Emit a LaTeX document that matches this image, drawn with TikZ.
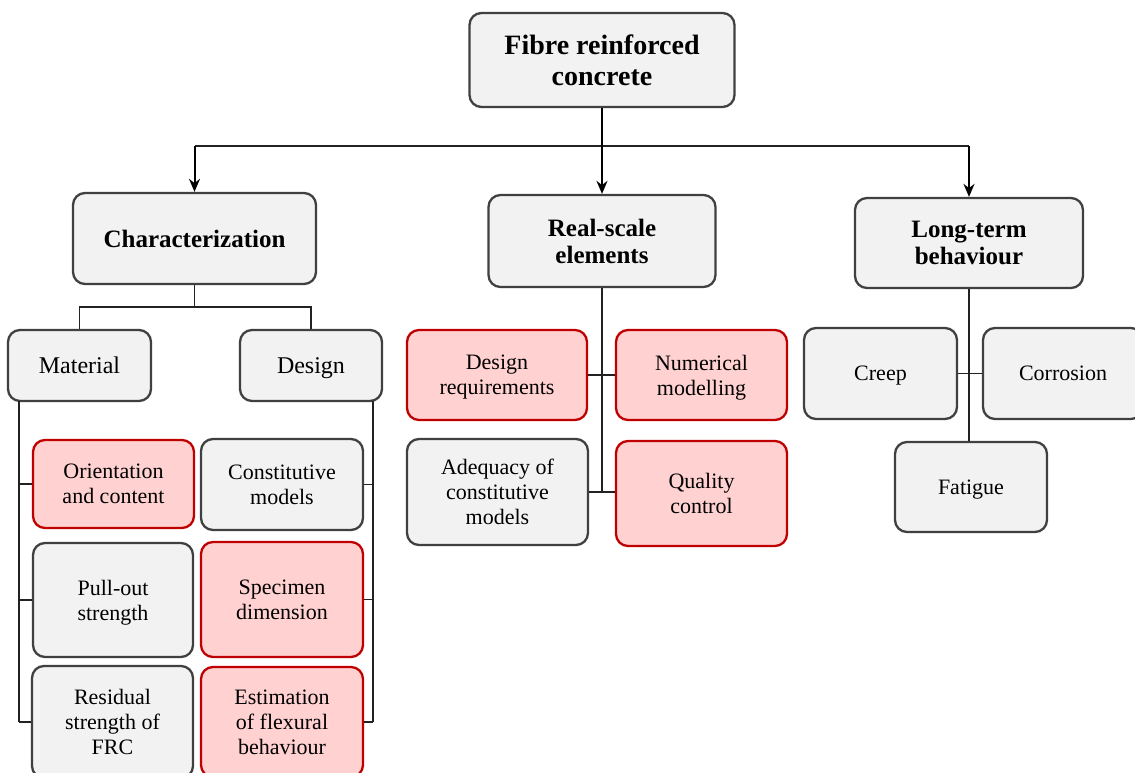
\documentclass[tikz,border=0pt]{standalone}
\usepackage{fontspec}
\setmainfont{Liberation Serif}
\usetikzlibrary{arrows.meta}
\definecolor{gborder}{HTML}{404040}
\definecolor{gfill}{HTML}{F2F2F2}
\definecolor{rborder}{HTML}{C00000}
\definecolor{rfill}{HTML}{FFD1D1}
\definecolor{lnk}{HTML}{222222}
\tikzset{
  base/.style={rounded corners=12pt, line width=2.3pt, inner sep=0pt, align=center, text=black, text depth=0pt},
  gbox/.style={base, draw=gborder, fill=gfill},
  rbox/.style={base, draw=rborder, fill=rfill},
  ftitle/.style={font=\fontsize{28}{31}\selectfont\bfseries},
  fhead/.style={font=\fontsize{25}{27}\selectfont\bfseries},
  fsub/.style={font=\fontsize{24}{28}\selectfont},
  fleaf/.style={font=\fontsize{22}{25}\selectfont},
  link/.style={draw=lnk, line width=1.3pt},
  arr/.style={draw=black, line width=2pt, -{Stealth[length=13pt,width=11pt]}},
}
\begin{document}
\begin{tikzpicture}[x=1pt,y=-1pt]
\path[use as bounding box] (0,0) rectangle (1135,772);
\clip (0,0) rectangle (1135,772);
\fill[white] (0,0) rectangle (1135,772);

% top
\node[gbox, ftitle, minimum width=265pt, minimum height=94pt] (top) at (602,60) {Fibre reinforced\\concrete};
% level 1
\node[gbox, fhead, minimum width=243pt, minimum height=91pt] (char) at (194.5,238.5) {Characterization};
\node[gbox, fhead, minimum width=227pt, minimum height=92pt] (real) at (602,241) {Real-scale\\elements};
\node[gbox, fhead, minimum width=228pt, minimum height=90pt] (long) at (969,243) {Long-term\\behaviour};
% level 2
\node[gbox, fsub, minimum width=143pt, minimum height=71pt] (mat) at (79.5,365.5) {Material};
\node[gbox, fsub, minimum width=142pt, minimum height=71pt] (des) at (311,365.5) {Design};
% material leaves
\node[rbox, fleaf, minimum width=161pt, minimum height=88pt] (orient) at (113.5,484) {Orientation\\and content};
\node[gbox, fleaf, minimum width=160pt, minimum height=114pt] (pull) at (113,600) {Pull-out\\strength};
\node[gbox, fleaf, minimum width=161pt, minimum height=112pt] (resid) at (112.5,722) {Residual\\strength of\\FRC};
% design leaves
\node[gbox, fleaf, minimum width=162pt, minimum height=91pt] (const) at (282,484.5) {Constitutive\\models};
\node[rbox, fleaf, minimum width=162pt, minimum height=115pt] (spec) at (282,599.5) {Specimen\\dimension};
\node[rbox, fleaf, minimum width=162pt, minimum height=110pt] (estim) at (282,722) {Estimation\\of flexural\\behaviour};
% real-scale leaves
\node[rbox, fleaf, minimum width=180pt, minimum height=90pt] (desreq) at (497,375) {Design\\requirements};
\node[rbox, fleaf, minimum width=171pt, minimum height=90pt] (num) at (701.5,375) {Numerical\\modelling};
\node[gbox, fleaf, minimum width=181pt, minimum height=106pt] (adeq) at (497.5,492) {Adequacy of\\constitutive\\models};
\node[rbox, fleaf, minimum width=171pt, minimum height=105pt] (qual) at (701.5,493.5) {Quality\\control};
% long-term leaves
\node[gbox, fleaf, minimum width=153pt, minimum height=91pt] (creep) at (880.5,373.5) {Creep};
\node[gbox, fleaf, minimum width=160pt, minimum height=91pt] (corr) at (1063,373.5) {Corrosion};
\node[gbox, fleaf, minimum width=152pt, minimum height=90pt] (fat) at (971,487) {Fatigue};

% top-level connectors
\coordinate (busL) at (194.5,146);
\coordinate (busR) at (969,146);
\path[link] (busL) -- (busR);
\draw[arr] (top.south) -- (real.north);
\draw[arr] (busL) -- (char.north);
\draw[arr] (busR) -- (long.north);

% characterization
\coordinate (cbus) at (194.5,307);
\path[link] (char.south) -- (cbus);
\path[link] (mat.north) |- (cbus) -| (des.north);

% material spine
\coordinate (ms) at (19,401);
\coordinate (me) at (19,722);
\path[link] (ms) -- (me);
\path[link] (ms |- orient.west) -- (orient.west);
\path[link] (ms |- pull.west) -- (pull.west);
\path[link] (ms |- resid.west) -- (resid.west);

% design spine
\coordinate (ds) at (373,401);
\coordinate (de) at (373,722);
\path[link] (ds) -- (de);
\path[link] (ds |- const.east) -- (const.east);
\path[link] (ds |- spec.east) -- (spec.east);
\path[link] (ds |- estim.east) -- (estim.east);

% real-scale spine
\coordinate (re) at (602,492);
\path[link] (real.south) -- (re);
\path[link] (desreq.east) -- (num.west);
\path[link] (adeq.east) -- (adeq.east -| qual.west);

% long-term spine
\path[link] (long.south) -- (long.south |- fat.north);
\path[link] (creep.east) -- (corr.west);
\end{tikzpicture}
\end{document}
